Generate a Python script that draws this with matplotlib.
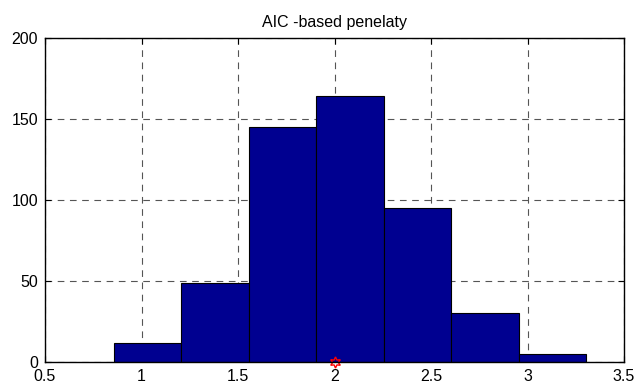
import numpy as np
import matplotlib
matplotlib.use('Agg')
import matplotlib.pyplot as plt

plt.rcParams['font.family'] = ['Liberation Sans', 'DejaVu Sans']

# histogram bins (left edges) and counts
bin_edges = [0.857, 1.207, 1.556, 1.906, 2.256, 2.605, 2.955, 3.305]
counts = [12, 49, 145, 164, 95, 30, 5]
true_value = 2.0

fig = plt.figure(figsize=(6.4, 3.91), dpi=100)
ax = fig.add_axes([45/640, 1 - 362/391, 579/640, 324/391])

widths = np.diff(bin_edges)
ax.bar(bin_edges[:-1], counts, width=widths, align='edge',
       color='#000090', edgecolor='black', linewidth=0.8, zorder=2)
ax.plot([true_value], [0], marker=(6, 1, 0), markersize=8, markerfacecolor='none',
        markeredgecolor='red', markeredgewidth=1.0, linestyle='none', zorder=4, clip_on=False)

ax.set_xlim(0.5, 3.5)
ax.set_ylim(0, 200)
ax.set_xticks([0.5, 1, 1.5, 2, 2.5, 3, 3.5])
ax.set_xticklabels(['0.5', '1', '1.5', '2', '2.5', '3', '3.5'])
ax.set_yticks([0, 50, 100, 150, 200])
ax.grid(True, color='#555555', linestyle=(0, (6, 5)), linewidth=0.8, zorder=1)
ax.set_axisbelow(True)
ax.tick_params(direction='in', length=4, labelsize=11.5, top=True, right=True,
               colors='black', pad=5)
for s in ax.spines.values():
    s.set_linewidth(1.0)
    s.set_zorder(5)
ax.set_title('AIC -based penelaty', fontsize=11.5, pad=8)

fig.savefig('out.png', dpi=100)
